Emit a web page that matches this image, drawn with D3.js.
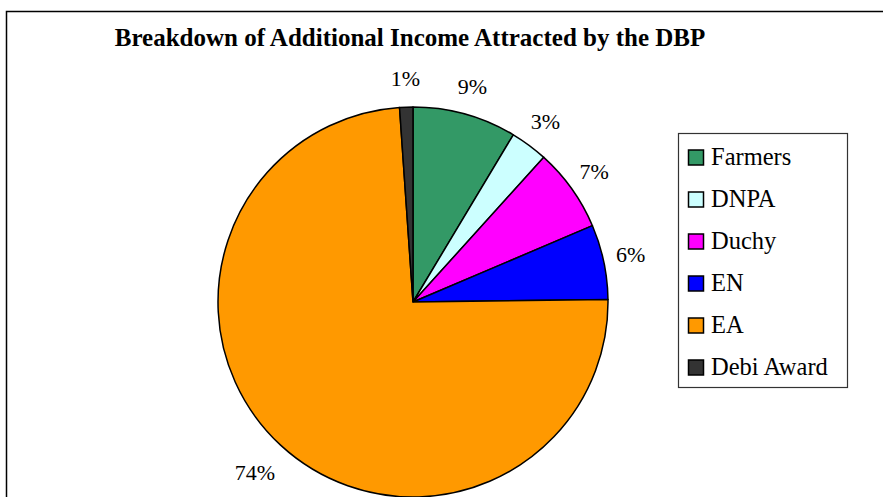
<!DOCTYPE html>
<html>
<head>
<meta charset="utf-8">
<script src="https://cdn.jsdelivr.net/npm/d3@7/dist/d3.min.js"></script>
<style>
  html, body { margin: 0; padding: 0; background: #fff; }
  svg { display: block; }
</style>
</head>
<body>
<svg id="chart" width="883" height="497"></svg>
<script>
// Share of additional income by source (percent)
const categories = ["Farmers", "DNPA", "Duchy", "EN", "EA", "Debi Award"];
const shares = [8.6, 3.1, 6.9, 6.2, 74.1, 1.1];
const colors = ["#339966", "#CCFFFF", "#FF00FF", "#0000FF", "#FF9900", "#333333"];
const title = "Breakdown of Additional Income Attracted by the DBP";

const FONT = "'Liberation Serif', 'Times New Roman', Times, 'DejaVu Serif', serif";

const data = categories.map((c, i) => ({ name: c, value: shares[i], color: colors[i] }));
const total = d3.sum(shares);
const fmtPct = v => Math.round(v / total * 100) + "%";

const svg = d3.select("#chart").style("font-family", FONT);

// Outer chart frame (extends past the right and bottom edges)
svg.append("rect")
  .attr("x", 6.5).attr("y", 11.5)
  .attr("width", 1000).attr("height", 1000)
  .attr("fill", "#fff").attr("stroke", "#000").attr("stroke-width", 1.5);

// Title
svg.append("text")
  .attr("x", 410).attr("y", 46)
  .attr("text-anchor", "middle")
  .style("font-family", FONT)
  .style("font-size", "25px").style("font-weight", "bold")
  .text(title);

// Pie
const cx = 413, cy = 302, r = 195;
const pie = d3.pie().value(d => d.value).sort(null);
const arc = d3.arc().innerRadius(0).outerRadius(r);
const arcs = pie(data);

const g = svg.append("g").attr("transform", `translate(${cx},${cy})`);
g.selectAll("path.slice")
  .data(arcs)
  .join("path")
  .attr("class", "slice")
  .attr("d", arc)
  .attr("fill", d => d.data.color)
  .attr("stroke", "#000")
  .attr("stroke-width", 1.5)
  .attr("stroke-linejoin", "round");

// Percentage labels placed outside each slice
const labelSize = 22;
g.selectAll("text.pct")
  .data(arcs)
  .join("text")
  .attr("class", "pct")
  .style("font-family", FONT)
  .style("font-size", labelSize + "px")
  .attr("text-anchor", "middle")
  .text(d => fmtPct(d.data.value))
  .each(function (d) {
    const w = this.getComputedTextLength();
    const a = (d.startAngle + d.endAngle) / 2;
    const rr = r + 26 + Math.max(0, w - 28) * 1.0;
    const x = Math.sin(a) * rr;
    const y = -Math.cos(a) * rr;
    d3.select(this).attr("x", x).attr("y", y + 6);
  });

// Legend
const lx = 678, ly = 133, lw = 169, lh = 254;
const legend = svg.append("g");
legend.append("rect")
  .attr("x", lx + 0.5).attr("y", ly + 0.5)
  .attr("width", lw).attr("height", lh)
  .attr("fill", "#fff").attr("stroke", "#333").attr("stroke-width", 1.2);

const rowY = d3.scalePoint().domain(categories).range([157.5, 367.5]);
const items = legend.selectAll("g.item")
  .data(data)
  .join("g")
  .attr("class", "item")
  .attr("transform", d => `translate(0,${rowY(d.name)})`);
items.append("rect")
  .attr("x", 688.5).attr("y", -7.5)
  .attr("width", 15).attr("height", 15)
  .attr("fill", d => d.color)
  .attr("stroke", "#000").attr("stroke-width", 1.5);
items.append("text")
  .attr("x", 711).attr("y", 7.5)
  .style("font-family", FONT)
  .style("font-size", "24.5px")
  .text(d => d.name);
</script>
</body>
</html>
